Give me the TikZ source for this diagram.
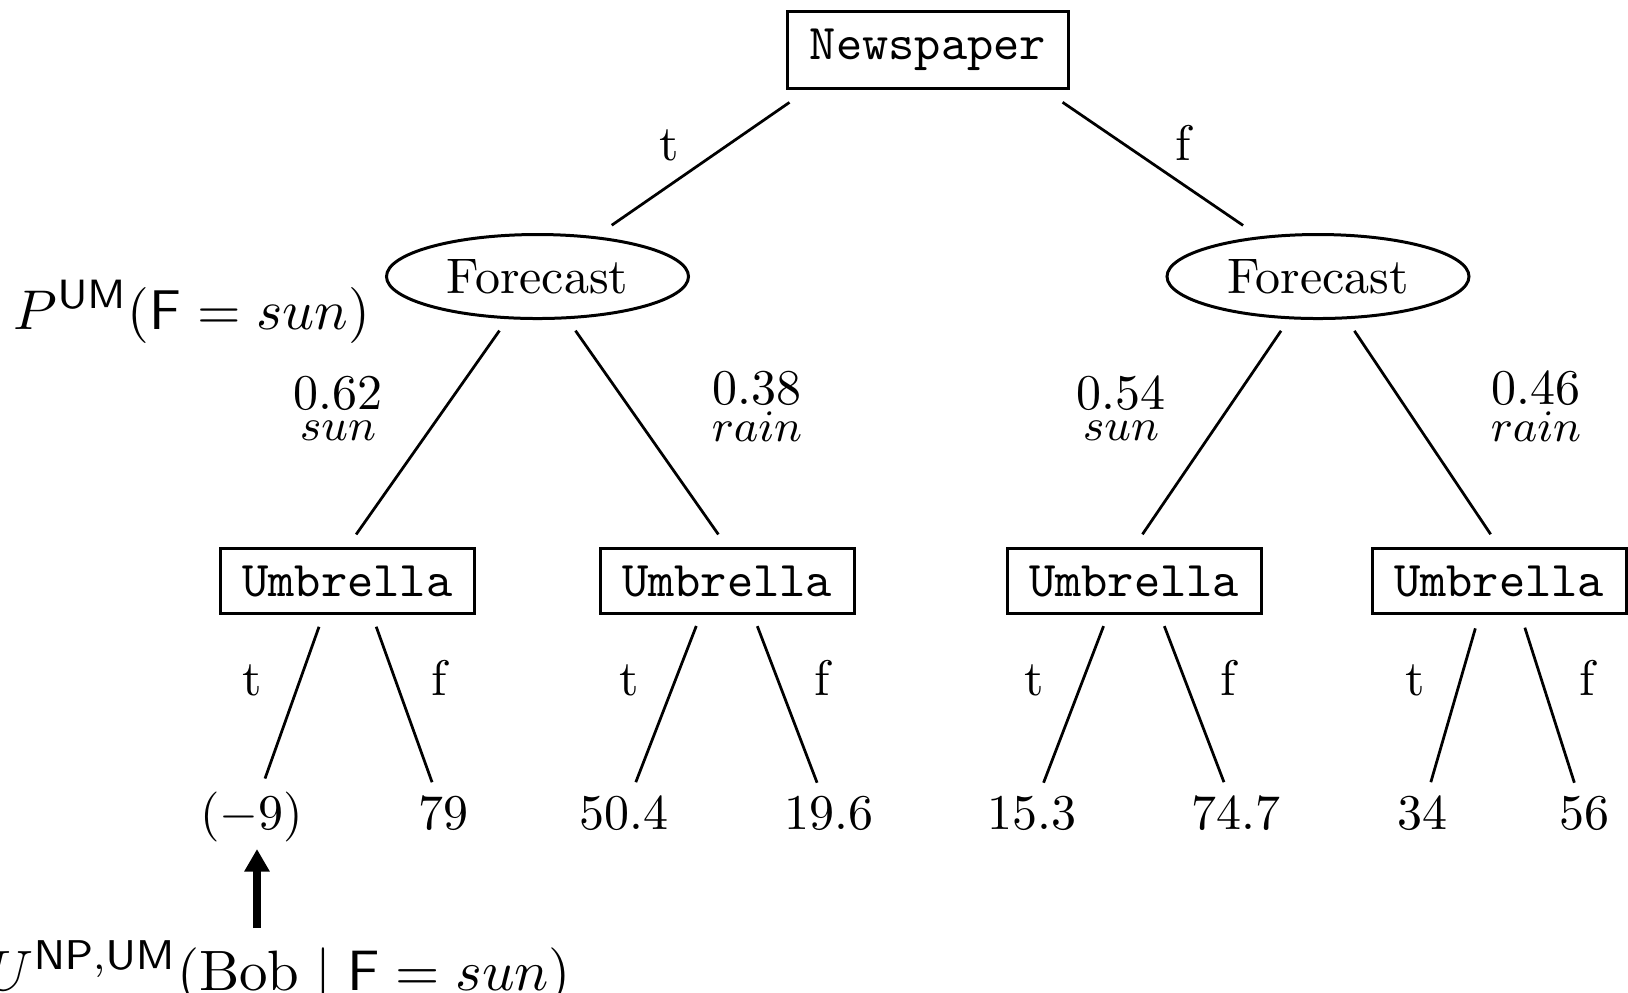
\documentclass[tikz,border=0pt]{standalone}
\usepackage{amsmath,amssymb}
\usepackage{graphicx}
\usepackage{tikz}
\usetikzlibrary{shapes.geometric,calc,arrows.meta}

\tikzset{
  decision/.style={draw, line width=0.6pt, font=\ttfamily, inner xsep=4.4pt, inner ysep=3.45pt},
  chance/.style={draw, ellipse, line width=0.6pt, minimum width=60.4pt, minimum height=16.8pt, inner sep=0pt},
  edge/.style={line width=0.55pt},
  leaf/.style={anchor=base, inner sep=2.4pt},
  branch/.style={anchor=base},
  prob/.style={anchor=base, inner sep=0pt},
  outcome/.style={anchor=base, inner sep=0pt, font=\small},
  note/.style={anchor=base east, inner sep=0pt, font=\fontsize{10.95}{14}\selectfont},
  pointer/.style={line width=1.6pt, -{Triangle[width=4.8pt, length=4.5pt]}}
}

\begin{document}
\begin{tikzpicture}[x=0.2pt, y=-0.2pt]
    \useasboundingbox (0, 0) rectangle (1628, 992);

    % Newspaper and the two forecasts
    \node [decision] (news) at (928, 50) {Newspaper};
    \node [chance] (fc1) at (537.5, 276.5) {Forecast};
    \node [chance] (fc2) at (1318, 276.5) {Forecast};
    \draw [edge, shorten <=4.5pt, shorten >=3.9pt] ($(news.south)+(-120, 0)$) -- (fc1);
    \draw [edge, shorten <=4.5pt, shorten >=3.9pt] ($(news.south)+(116, 0)$) -- (fc2);
    \node [branch] (tN) at (669, 160) {t};
    \node [branch] (fN) at (1183, 160) {f};

    % Umbrella decisions
    \foreach \n/\x in {1/347.5, 2/727, 3/1134, 4/1499}
        \node [decision] (um\n) at (\x, 581) {Umbrella};
    \foreach \f/\u in {fc1/um1, fc1/um2, fc2/um3, fc2/um4}
        \draw [edge, shorten <=2.8pt, shorten >=3pt] (\f) -- (\u.north);

    % forecast probabilities
    \node [prob] (p1) at (338, 409) {0.62};
    \node [outcome] (o1) at (338, 440) {$sun$};
    \node [prob] (p2) at (757, 404) {0.38};
    \node [outcome] (o2) at (757, 441) {$rain$};
    \node [prob] (p3) at (1121, 409) {0.54};
    \node [outcome] (o3) at (1121, 440) {$sun$};
    \node [prob] (p4) at (1536, 404) {0.46};
    \node [outcome] (o4) at (1536, 441) {$rain$};

    % utilities
    \foreach \n/\x/\v in {1/251.5/{$(-9)$}, 2/443/79, 3/624/50.4, 4/828.6/19.6,
                          5/1032/15.3, 6/1235.6/74.7, 7/1422/34, 8/1584/56}
        \node [leaf] (lf\n) at (\x, 829) {\v};
    \foreach \u/\l in {um1/lf1, um1/lf2, um2/lf3, um2/lf4, um3/lf5, um3/lf6, um4/lf7, um4/lf8}
        \draw [edge, shorten <=17pt] (\u.north) -- (\l);
    \foreach \n/\x in {1/252.5, 2/629, 3/1034, 4/1415}
        \node [branch] (tU\n) at (\x, 695) {t};
    \foreach \n/\x in {1/439, 2/822, 3/1228, 4/1587}
        \node [branch] (fU\n) at (\x, 695) {f};

    % annotations
    \node [note] (pSun) at (371, 329) {\scalebox{1.023}{$P^{\mathsf{UM}}(\mathsf{F}=sun)$}};
    \node [note] (uBob) at (572, 990) {\scalebox{1.04}{$U^{\mathsf{NP,UM}}(\mathrm{Bob}\mid\mathsf{F}=sun)$}};
    \coordinate (tail) at (257, 928);
    \draw [pointer, shorten >=-1.1pt] (tail) -- (tail |- lf1.south);
\end{tikzpicture}
\end{document}
